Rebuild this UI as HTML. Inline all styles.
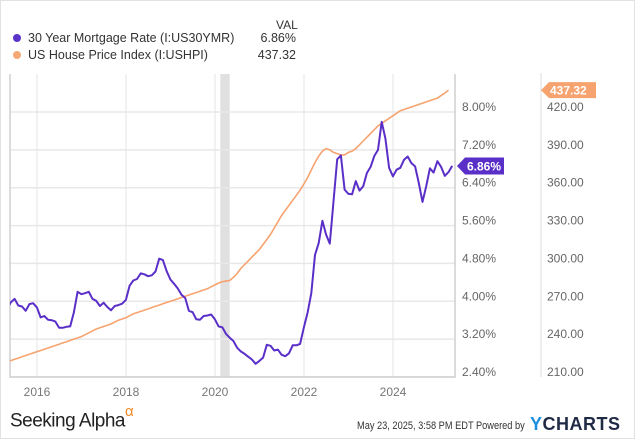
<!DOCTYPE html>
<html><head><meta charset="utf-8"><style>
body{margin:0;background:#fff;font-family:"Liberation Sans",sans-serif;}
#wrap{position:relative;width:633px;height:437px;border:1px solid #e2e2e2;overflow:hidden;background:#fff}
.t{position:absolute;white-space:nowrap}
</style></head><body>
<div id="wrap">
<div class="t" style="left:275px;top:17px;font-size:12px;color:#333">VAL</div>
<div>
<div class="t" style="left:12px;top:33px;width:8px;height:8px;border-radius:50%;background:#5a34c8"></div>
<div class="t" style="left:27px;top:30px;font-size:12.5px;color:#333">30 Year Mortgage Rate (I:US30YMR)</div>
<div class="t" style="left:250px;width:45px;text-align:right;top:30px;font-size:12.5px;color:#333">6.86%</div>
</div>
<div>
<div class="t" style="left:12px;top:50px;width:8px;height:8px;border-radius:50%;background:#f6a875"></div>
<div class="t" style="left:27px;top:47px;font-size:12.5px;color:#333">US House Price Index (I:USHPI)</div>
<div class="t" style="left:240px;width:55px;text-align:right;top:47px;font-size:12.5px;color:#333">437.32</div>
</div>
<svg id="chart" width="635" height="439" style="position:absolute;left:-1px;top:-1px" xmlns="http://www.w3.org/2000/svg"></svg>
<div class="t" style="left:9px;top:405px;font-size:19px;color:#222;letter-spacing:-0.5px">Seeking Alpha<sup style="color:#f08a24;font-size:15px;position:relative;top:-3px">α</sup></div>
<div class="t" style="left:356px;top:419px;font-size:11px;color:#333;transform:scaleX(0.84);transform-origin:left top">May 23, 2025, 3:58 PM EDT Powered by</div>
<div class="t" style="left:529px;top:413px;font-size:18px;font-weight:bold;color:#1f2a44;letter-spacing:0.5px"><span style="color:#1d8fe0">Y</span>CHARTS</div>
</div>
<script>
const leftTicks=["8.00%","7.20%","6.40%","5.60%","4.80%","4.00%","3.20%","2.40%"];
const leftTickVals=[8.0,7.2,6.4,5.6,4.8,4.0,3.2,2.4];
const rightTicks=["420.00","390.00","360.00","330.00","300.00","270.00","240.00","210.00"];
const rightTickVals=[420,390,360,330,300,270,240,210];
const yearTicks=[2016,2018,2020,2022,2024];
const recession=[2020.12,2020.33];
const mortgageStart=2015.33;
const mortgage=[3.84,3.98,4.05,3.91,3.89,3.80,3.94,3.96,
3.87,3.66,3.69,3.61,3.60,3.57,3.44,3.44,3.46,3.47,3.77,4.20,
4.15,4.17,4.20,4.05,4.01,3.90,3.97,3.88,3.81,3.90,3.92,3.95,
4.03,4.33,4.44,4.47,4.59,4.57,4.53,4.55,4.63,4.90,4.87,4.64,
4.46,4.37,4.27,4.14,4.07,3.80,3.77,3.62,3.61,3.69,3.70,3.72,
3.62,3.47,3.45,3.31,3.23,3.16,3.02,2.94,2.89,2.83,2.77,2.68,
2.74,2.81,3.08,3.06,2.96,2.98,2.87,2.84,2.90,3.07,3.07,3.10,
3.45,3.76,4.17,4.98,5.23,5.70,5.41,5.22,6.11,7.00,7.08,6.36,
6.27,6.26,6.54,6.34,6.43,6.71,6.84,7.07,7.20,7.79,7.44,6.82,
6.64,6.78,6.82,6.99,7.06,6.92,6.85,6.50,6.10,6.43,6.81,6.72,
6.96,6.84,6.65,6.73,6.86];
const hpiStart=2015.33;
const hpi=[222,223,224,225,226,227,228,229,
230,231,232,233,234,235,236,237,238,239,240,241,
242,243.5,245,246.5,248,249,250,251,252,253.5,255,256,
257,258.5,260,261,262,263,264,265,266,267,268,269,
270,271,272,273,274,275,276,277,278,279,280,281.5,
283,284.5,285.5,286,286.5,289,292,296,299,302,305,308,
311,315,319,323,328,333,338,342,346,350,354,358,
363,368,374,380,385,389,391,390,388,387,386,386,
388,389,391,394,397,400,403,406,409,411,413,415,
417,419,421,422,423,424,425,426,427,428,429,430,
431,433,435,437.32];
const svg=document.getElementById('chart');
const NS='http://www.w3.org/2000/svg';
const L=10,R=455,T=74,B=377;
const x=t=>37+(t-2016)*44.5;
const yL=v=>112+(8-v)*(265/5.6);
const yR=v=>112+(420-v)*(265/210);
function mk(tag,attrs,parent){const e=document.createElementNS(NS,tag);for(const k in attrs)e.setAttribute(k,attrs[k]);(parent||svg).appendChild(e);return e;}
const defs=mk('defs',{});const cp=mk('clipPath',{id:'pc'},defs);mk('rect',{x:L,y:T,width:R-L,height:B-T},cp);
const rec=mk('rect',{x:x(recession[0]),y:T,width:x(recession[1])-x(recession[0]),height:B-T,fill:'#e0e0e0'});


leftTickVals.forEach((v,i)=>{
 const g=mk('line',{x1:L,x2:R,y1:yL(v),y2:yL(v),stroke:'#e8e8e8','stroke-width':1.5});
 
 
 const t=mk('text',{x:462,y:yL(v)-1,'font-size':12,fill:'#666','font-family':'Liberation Sans, sans-serif'});t.textContent=leftTicks[i];
 
 
});
rightTickVals.forEach((v,i)=>{
 const t=mk('text',{x:547,y:yR(v)-1,'font-size':12,fill:'#666','font-family':'Liberation Sans, sans-serif'});t.textContent=rightTicks[i];
 
 
});
yearTicks.forEach(yr=>{
 const g=mk('line',{x1:x(yr),x2:x(yr),y1:T,y2:B,stroke:'#e4e4e4','stroke-width':1});
 
 
 const t=mk('text',{x:x(yr),y:396,'font-size':12,fill:'#777','text-anchor':'middle','font-family':'Liberation Sans, sans-serif'});t.textContent=yr;
 
 
});
const fr=mk('path',{d:`M${L},${T}V${B}H${R}V${T}`,fill:'none',stroke:'#cfcfcf','stroke-width':1.5});


const sep=mk('line',{x1:541,x2:541,y1:73,y2:377,stroke:'#ddd'});


function pts(arr,start,yf){return arr.map((v,i)=>x(start+i/12).toFixed(1)+','+yf(v).toFixed(1)).join(' ');}
const hl=mk('polyline',{points:pts(hpi,hpiStart,yR),fill:'none',stroke:'#f6a36f','stroke-width':1.6,'clip-path':'url(#pc)'});


const ml=mk('polyline',{points:pts(mortgage,mortgageStart,yL),fill:'none',stroke:'#5a2fc8','stroke-width':2,'stroke-linejoin':'round','clip-path':'url(#pc)'});


const lm=mortgage[mortgage.length-1],my=yL(lm);
const b1=mk('path',{d:`M457,${my}L465,${my-8.5}H504V${my+8.5}H465Z`,fill:'#5a2fc8'});


const t1=mk('text',{x:467,y:my+4.5,'font-size':12,'font-weight':'bold',fill:'#fff','font-family':'Liberation Sans, sans-serif'});t1.textContent=lm.toFixed(2)+'%';


const lh=hpi[hpi.length-1],hy=yR(lh);
const b2=mk('path',{d:`M541,${hy}L549,${hy-8}H596V${hy+8}H549Z`,fill:'#f6a36f'});


const t2=mk('text',{x:550,y:hy+4.5,'font-size':12,'font-weight':'bold',fill:'#fff','font-family':'Liberation Sans, sans-serif'});t2.textContent=lh.toFixed(2);


</script>
</body></html>
